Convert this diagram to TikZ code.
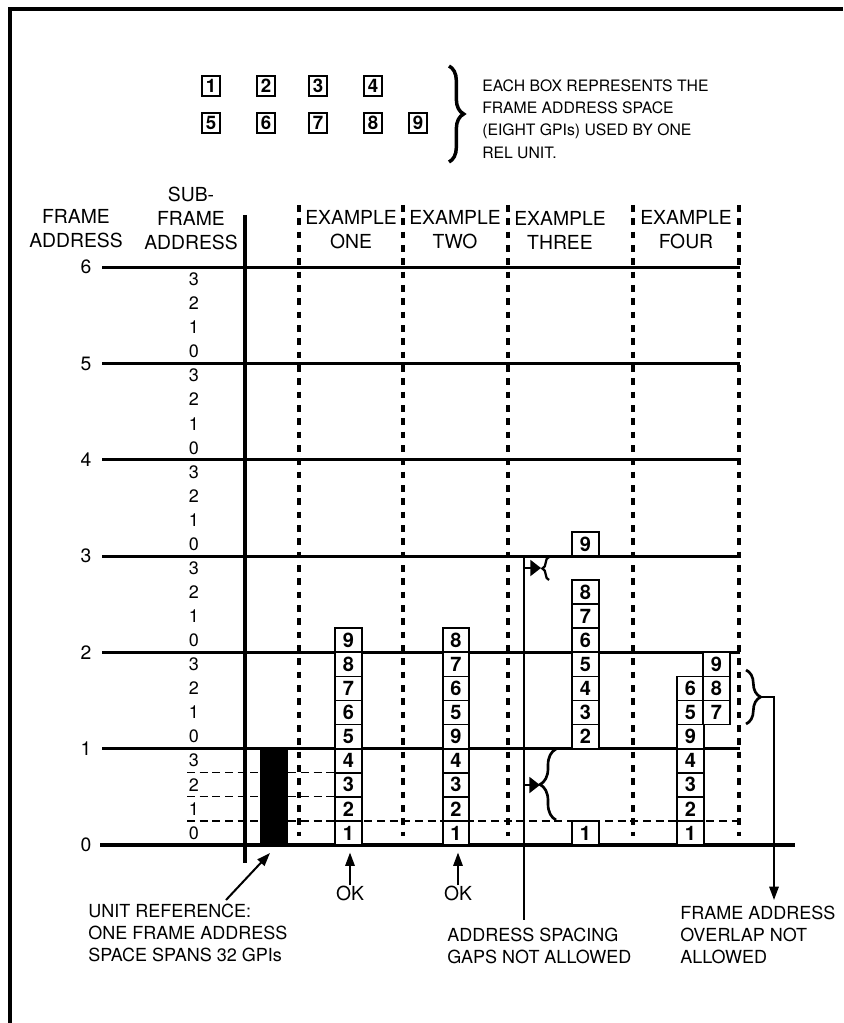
\documentclass[tikz,border=0pt]{standalone}
\usepackage{fontspec}
\setmainfont{TeX Gyre Heros}
\usetikzlibrary{arrows.meta,decorations.pathreplacing}

\tikzset{
  frameline/.style={line width=2.2pt},
  exsep/.style={line width=2.6pt,dash pattern=on 5pt off 5pt},
  subsep/.style={line width=0.9pt,dash pattern=on 6pt off 3.5pt},
  gpibox/.style={draw,line width=1.3pt,fill=white,minimum width=20pt,minimum height=18.06pt,
    inner sep=0pt,font=\fontsize{15}{15}\selectfont\bfseries},
  legbox/.style={draw,line width=1.5pt,minimum width=13.5pt,minimum height=14.5pt,
    inner sep=0pt,font=\fontsize{14}{14}\selectfont\bfseries},
  lbl/.style={font=\fontsize{14.5}{18}\selectfont,align=center,inner sep=0pt},
  note/.style={font=\fontsize{13.5}{16.5}\selectfont,align=left,anchor=north west,inner sep=0pt},
  pointer/.style={line width=1.5pt,-{Triangle[length=10pt,width=7pt]}},
  curly/.style={decorate,decoration={brace,amplitude=#1},line width=2pt},
}

\begin{document}
\begin{tikzpicture}[x=0.75pt,y=-0.75pt,line join=miter]
  \def\rowh{24.08}
  \def\fh{96.3}
  \useasboundingbox (0,0) rectangle (843,1023);

  % page frame, only its top and left edges show
  \draw[line width=2.6pt] (10,1023) -- (10,9) -- (843,9);

  % legend
  \foreach \n/\x/\y in {1/211/86,2/266/86,3/318/86,4/373/86,5/211/123,6/266/123,7/318/123,8/373/123,9/418/123}
    \node[legbox] (leg\n) at (\x,\y) {\n};
  \draw[curly=11pt,line width=2.6pt] (449,66) -- (449,162);
  \node[note,font=\fontsize{11.8}{16.7}\selectfont,anchor=west] (legtext) at (482,119)
    {EACH BOX REPRESENTS THE\\FRAME ADDRESS SPACE\\(EIGHT GPIs) USED BY ONE\\REL UNIT.};

  % headings
  \node[lbl] (fahead) at (76,229) {FRAME\\ADDRESS};
  \node[lbl] (sfhead) at (191,218) {SUB-\\FRAME\\ADDRESS};
  \node[lbl] (exone) at (351,230) {EXAMPLE\\ONE};
  \node[lbl] (extwo) at (455,230) {EXAMPLE\\TWO};
  \node[lbl] (exthree) at (560,230) {EXAMPLE\\THREE};
  \node[lbl] (exfour) at (686,230) {EXAMPLE\\FOUR};

  % frame address lines and sub-frame rows
  \foreach \k in {1,...,6} {
    \pgfmathsetmacro{\yk}{845-\fh*\k}
    \draw[frameline] (102,\yk) -- (740,\yk);
    \node[lbl] (fa\k) at (86,\yk) {\k};
  }
  \node[lbl] (fa0) at (86,845) {0};
  \foreach \k in {0,...,5}
    \foreach \j in {0,...,3}
      \node[lbl,font=\fontsize{13.5}{13.5}\selectfont] (sf\k\j) at (194,{845-\fh*\k-\rowh*(\j+0.5)}) {\j};

  \foreach \x in {299,403,508,633,739}
    \draw[exsep] (\x,205) -- (\x,836);
  \draw[subsep] (187,{845-\rowh}) -- (740,{845-\rowh});
  \draw[subsep] (187,{845-2*\rowh}) -- (335,{845-2*\rowh});
  \draw[subsep] (187,{845-3*\rowh}) -- (335,{845-3*\rowh});

  \draw[line width=3pt] (100,845) -- (795,845);
  \draw[line width=3pt] (245,215) -- (245,863);

  % unit reference bar
  \node[fill=black,inner sep=0pt,minimum width=21pt,minimum height=72.2pt] (unitbar) at (274,796.85) {};

  % example one
  \foreach \n [count=\i from 0] in {1,...,9}
    \node[gpibox] (one\i) at (348.5,{845-\rowh*(\i+0.5)}) {\n};
  % example two
  \foreach \n [count=\i from 0] in {1,2,3,4,9,5,6,7,8}
    \node[gpibox] (two\i) at (456,{845-\rowh*(\i+0.5)}) {\n};
  % example three
  \foreach \n/\i in {1/0,2/4,3/5,4/6,5/7,6/8,7/9,8/10,9/12}
    \node[gpibox] (three\n) at (585.5,{845-\rowh*(\i+0.5)}) {\n};
  % example four
  \foreach \n [count=\i from 0] in {1,2,3,4,9,5,6}
    \node[gpibox] (fourl\i) at (690.5,{845-\rowh*(\i+0.5)}) {\n};
  \foreach \n/\i in {7/5,8/6,9/7}
    \node[gpibox] (fourr\n) at (716.5,{845-\rowh*(\i+0.5)}) {\n};

  % OK marks
  \node[lbl] (okone) at (350,893) {OK};
  \node[lbl] (oktwo) at (458,893) {OK};
  \draw[pointer,shorten >=5pt] (okone.north) -- (okone.north |- one0.south);
  \draw[pointer,shorten >=5pt] (oktwo.north) -- (oktwo.north |- two0.south);

  % example three gaps
  \coordinate (gaptop) at (524,558);
  \coordinate (gapfoot) at (524,920);
  \coordinate (gapsmall) at (541,568);
  \coordinate (gaplarge) at (540,785);
  \draw[line width=1.5pt] (gaptop) -- (gapfoot);
  \draw[curly=5pt,line width=1.7pt] (549,580) -- (549,557);
  \draw[curly=12pt] (556,820) -- (556,749);
  \draw[line width=1.5pt,-{Triangle[length=8pt,width=12pt]}] (gaptop |- gapsmall) -- (gapsmall);
  \draw[line width=1.5pt,-{Triangle[length=8pt,width=12pt]}] (gaptop |- gaplarge) -- (gaplarge);

  % example four overlap
  \draw[curly=11pt] (746,670) -- (746,724);
  \coordinate (ovtip) at (762,697);
  \coordinate (ovfoot) at (774,900);
  \draw[pointer] (ovtip) -| (ovfoot);

  % unit reference pointer
  \coordinate (unitfoot) at (226,900);
  \coordinate (unittip) at (270,853);
  \draw[pointer] (unitfoot) -- (unittip);

  % notes
  \node[note] (unitnote) at (88,904) {UNIT REFERENCE:\\ONE FRAME ADDRESS\\SPACE SPANS 32 GPIs};
  \node[note] (gapnote) at (447,928) {ADDRESS SPACING\\GAPS NOT ALLOWED};
  \node[note] (ovnote) at (680,906) {FRAME ADDRESS\\OVERLAP NOT\\ALLOWED};
\end{tikzpicture}
\end{document}
